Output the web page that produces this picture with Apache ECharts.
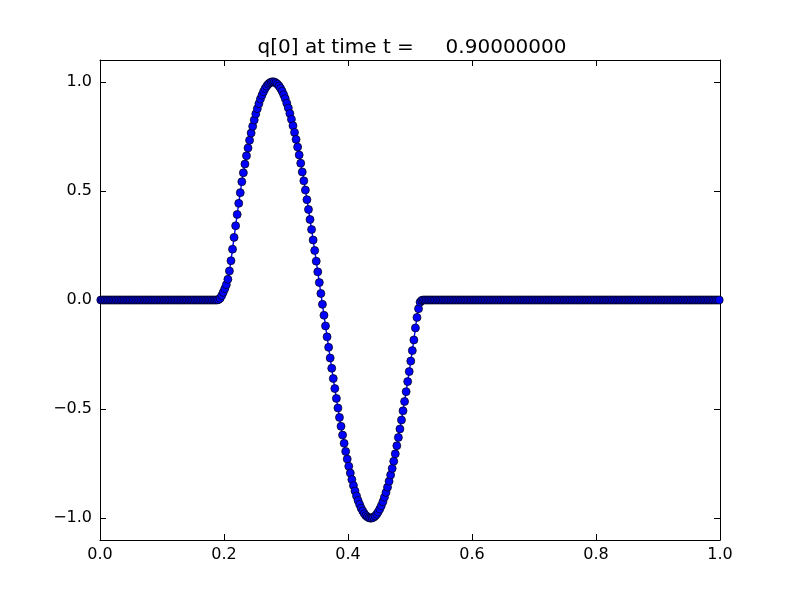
<!DOCTYPE html>
<html>
<head>
<meta charset="utf-8">
<script src="https://cdn.jsdelivr.net/npm/echarts@6/dist/echarts.min.js"></script>
<style>
html,body{margin:0;padding:0;background:#fff;}
#chart{width:800px;height:600px;}
</style>
</head>
<body>
<div id="chart"></div>
<script>
// Grid: 400 cells on [0,1], values at cell centres
const xLower = 0.0;
const xUpper = 1.0;
const nCells = 400;

// q[0] values, one per cell
const leftFlat = [
0,0,0,0,0,0,0,0,0,0,0,0,0,0,0,0,0,0,0,0,
0,0,0,0,0,0,0,0,0,0,0,0,0,0,0,0,0,0,0,0,
0,0,0,0,0,0,0,0,0,0,0,0,0,0,0,0,0,0,0,0,
0,0,0,0,0,0,0,0,0,0,0,0,0,0,0,0
];
const pulse = [
0.002,0.008,0.020,0.035,0.052,0.070,0.095,0.133,0.180,0.233,
0.287,0.340,0.392,0.443,0.492,0.542,0.583,0.623,0.661,0.697,
0.732,0.765,0.796,0.825,0.853,0.877,0.900,0.921,0.939,0.955,
0.969,0.980,0.989,0.995,0.999,1.000,0.999,0.995,0.989,0.981,
0.970,0.957,0.941,0.923,0.902,0.880,0.855,0.828,0.799,0.768,
0.736,0.701,0.665,0.627,0.587,0.546,0.504,0.460,0.415,0.369,
0.323,0.275,0.227,0.178,0.129,0.080,0.030,-0.020,-0.070,-0.119,
-0.169,-0.217,-0.266,-0.313,-0.360,-0.406,-0.451,-0.495,-0.538,-0.579,
-0.619,-0.657,-0.694,-0.729,-0.762,-0.793,-0.823,-0.850,-0.875,-0.898,
-0.919,-0.937,-0.954,-0.967,-0.979,-0.988,-0.994,-0.998,-1.000,-0.999,
-0.996,-0.990,-0.982,-0.971,-0.958,-0.943,-0.925,-0.904,-0.882,-0.858,
-0.831,-0.802,-0.772,-0.739,-0.705,-0.668,-0.630,-0.591,-0.550,-0.508,
-0.465,-0.420,-0.374,-0.328,-0.280,-0.232,-0.183,-0.128,-0.080,-0.040,
-0.010,-0.002
];
const rightFlat = [
0,0,0,0,0,0,0,0,0,0,0,0,0,0,0,0,0,0,0,0,
0,0,0,0,0,0,0,0,0,0,0,0,0,0,0,0,0,0,0,0,
0,0,0,0,0,0,0,0,0,0,0,0,0,0,0,0,0,0,0,0,
0,0,0,0,0,0,0,0,0,0,0,0,0,0,0,0,0,0,0,0,
0,0,0,0,0,0,0,0,0,0,0,0,0,0,0,0,0,0,0,0,
0,0,0,0,0,0,0,0,0,0,0,0,0,0,0,0,0,0,0,0,
0,0,0,0,0,0,0,0,0,0,0,0,0,0,0,0,0,0,0,0,
0,0,0,0,0,0,0,0,0,0,0,0,0,0,0,0,0,0,0,0,
0,0,0,0,0,0,0,0,0,0,0,0,0,0,0,0,0,0,0,0,
0,0,0,0,0,0,0,0,0,0,0,0
];
const qValues = leftFlat.concat(pulse, rightFlat);

const titleText = 'q[0] at time t =     0.90000000';
const xTicks = [0, 0.2, 0.4, 0.6, 0.8, 1.0];
const yTicks = [-1.0, -0.5, 0.0, 0.5, 1.0];

const dx = (xUpper - xLower) / nCells;
const seriesData = qValues.map((q, i) => [xLower + (i + 0.5) * dx, q]);

const fmt = v => (v < 0 ? '\u2212' : '') + Math.abs(v).toFixed(1);
const font = 'DejaVu Sans';

const tickStyle = {inside: true, length: 6, lineStyle: {color: '#000', width: 1}};
const lineStyle = {show: true, onZero: false, lineStyle: {color: '#000', width: 1}};

const chart = echarts.init(document.getElementById('chart'), null, {renderer: 'canvas'});
chart.setOption({
  animation: false,
  backgroundColor: '#fff',
  title: {
    text: titleText,
    left: 407,
    textAlign: 'center',
    top: 33,
    textStyle: {fontFamily: font, fontSize: 20, fontWeight: 'normal', color: '#000'}
  },
  grid: {left: 100, right: 80, top: 60, bottom: 60, containLabel: false},
  xAxis: [
    {
      type: 'value', min: 0, max: 1, interval: 0.2, position: 'bottom',
      axisLine: lineStyle, axisTick: tickStyle, splitLine: {show: false},
      axisLabel: {
        fontFamily: font, fontSize: 16, color: '#000', margin: 7,
        customValues: xTicks, formatter: fmt
      }
    },
    {
      type: 'value', min: 0, max: 1, interval: 0.2, position: 'top',
      axisLine: lineStyle, axisTick: tickStyle, splitLine: {show: false},
      axisLabel: {show: false}
    }
  ],
  yAxis: [
    {
      type: 'value', min: -1.1, max: 1.1, position: 'left',
      axisLine: lineStyle,
      axisTick: Object.assign({customValues: yTicks}, tickStyle),
      splitLine: {show: false},
      axisLabel: {
        fontFamily: font, fontSize: 16, color: '#000', margin: 8,
        customValues: yTicks, formatter: fmt
      }
    },
    {
      type: 'value', min: -1.1, max: 1.1, position: 'right',
      axisLine: lineStyle,
      axisTick: Object.assign({customValues: yTicks}, tickStyle),
      splitLine: {show: false},
      axisLabel: {show: false}
    }
  ],
  series: [{
    type: 'line',
    xAxisIndex: 0,
    yAxisIndex: 0,
    data: seriesData,
    showAllSymbol: true,
    symbol: 'circle',
    symbolSize: 8,
    clip: true,
    lineStyle: {color: '#0000ff', width: 1.4},
    itemStyle: {color: '#0000ff', borderColor: '#000', borderWidth: 0.7},
    emphasis: {disabled: true}
  }]
});
</script>
</body>
</html>
